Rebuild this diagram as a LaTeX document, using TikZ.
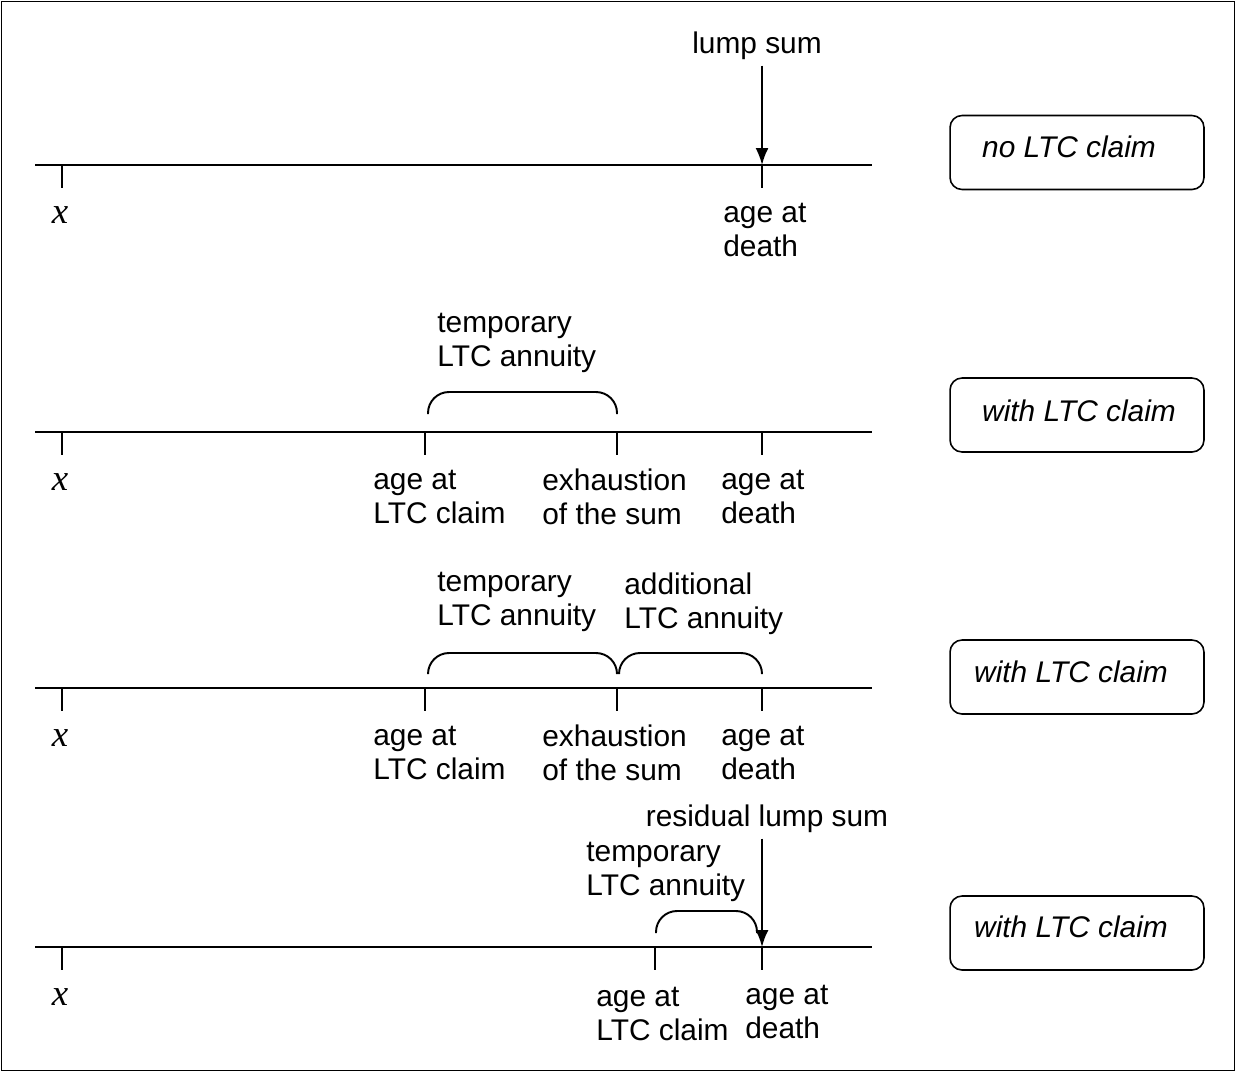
\documentclass[tikz,border=0pt]{standalone}
\usepackage{fontspec}
\setmainfont{Liberation Sans}
\newfontfamily\timesfont{Liberation Serif}
\usetikzlibrary{arrows.meta}

\tikzset{
    lbl/.style={font=\fontsize{17}{19.4}\selectfont, align=left, inner sep=0pt},
    agelbl/.style={font=\fontsize{21}{24}\timesfont\itshape, inner sep=0pt},
    axis/.style={line width=1.1pt},
    tickmark/.style={line width=1.1pt},
    brace/.style={line width=1.1pt, rounded corners=0.42cm},
    case/.style={draw, line width=0.9pt, rounded corners=0.24cm, minimum width=5.08cm,
                 minimum height=1.48cm},
    casetext/.style={font=\fontsize{17}{19.4}\selectfont\itshape, inner sep=0pt},
    payarrow/.style={line width=1.1pt, -{Latex[length=0.34cm, width=0.26cm]}},
}

\begin{document}
\begin{tikzpicture}[x=0.02cm, y=-0.02cm]
    \useasboundingbox (0,0) rectangle (1236,1072);
    \draw[line width=0.8pt] (1.5,1.5) rectangle (1234.5,1070.5);

    % the four time lines, each starting at age x
    \foreach \n/\y in {1/165, 2/432, 3/688, 4/947} {
        \coordinate (start\n) at (35,\y);
        \coordinate (end\n) at (872,\y);
        \coordinate (x\n) at (62,\y);
        \coordinate (death\n) at (762,\y);
        \draw[axis] (start\n) -- (end\n);
        \draw[tickmark] (x\n) -- ++(0,23);
        \draw[tickmark] (death\n) -- ++(0,23);
        \node[agelbl] (xlab\n) at (60,\y+50) {x};
    }

    % ticks for claim and exhaustion
    \coordinate (claim2) at (425,432);
    \coordinate (claim3) at (425,688);
    \coordinate (claim4) at (655,947);
    \coordinate (exhaust2) at (617,432);
    \coordinate (exhaust3) at (617,688);
    \foreach \c in {claim2, claim3, claim4, exhaust2, exhaust3}
        \draw[tickmark] (\c) -- ++(0,23);

    % case 1: no LTC claim
    \node[lbl, inner sep=3pt] (lump) at (757,46) {lump sum};
    \draw[payarrow] (lump.south -| death1) -- (death1);
    \node[lbl, anchor=west] (deathlab1) at (723,230) {age at\\death};
    \node[case] (case1) at (1077,152.5) {};
    \node[casetext] (casetext1) at (1069,147) {no LTC claim};

    % case 2: sum exhausted before death
    \draw[brace] (428,414) |- (617,392) -- (617,414);
    \node[lbl, anchor=west] (temp2) at (437,343) {temporary\\LTC annuity};
    \node[lbl, anchor=west] (claimlab2) at (373,497) {age at\\LTC claim};
    \node[lbl, anchor=west] (exhlab2) at (542,497) {exhaustion\\of the sum};
    \node[lbl, anchor=west] (deathlab2) at (721,497) {age at\\death};
    \node[case] (case2) at (1077,415) {};
    \node[casetext] (casetext2) at (1079,411) {with LTC claim};

    % case 3: additional annuity after exhaustion
    \draw[brace] (428,673) |- (617,653) -- (617,673);
    \draw[brace] (619,673) |- (762,653) -- (762,673);
    \node[lbl, anchor=west] (temp3) at (437,602) {temporary\\LTC annuity};
    \node[lbl, anchor=west] (add3) at (624,604) {additional\\LTC annuity};
    \node[lbl, anchor=west] (claimlab3) at (373,753) {age at\\LTC claim};
    \node[lbl, anchor=west] (exhlab3) at (542,753) {exhaustion\\of the sum};
    \node[lbl, anchor=west] (deathlab3) at (721,753) {age at\\death};
    \node[case] (case3) at (1077,677) {};
    \node[casetext] (casetext3) at (1071,672) {with LTC claim};

    % case 4: death before exhaustion
    \draw[brace] (656,933) |- (757,911) -- (757,933);
    \node[lbl, inner sep=3pt] (resid) at (767,819) {residual lump sum};
    \draw[payarrow] (resid.south -| death4) -- (death4);
    \node[lbl, anchor=west] (temp4) at (586,872) {temporary\\LTC annuity};
    \node[lbl, anchor=west] (claimlab4) at (596,1014) {age at\\LTC claim};
    \node[lbl, anchor=west] (deathlab4) at (745,1012) {age at\\death};
    \node[case] (case4) at (1077,933) {};
    \node[casetext] (casetext4) at (1071,927) {with LTC claim};
\end{tikzpicture}
\end{document}
